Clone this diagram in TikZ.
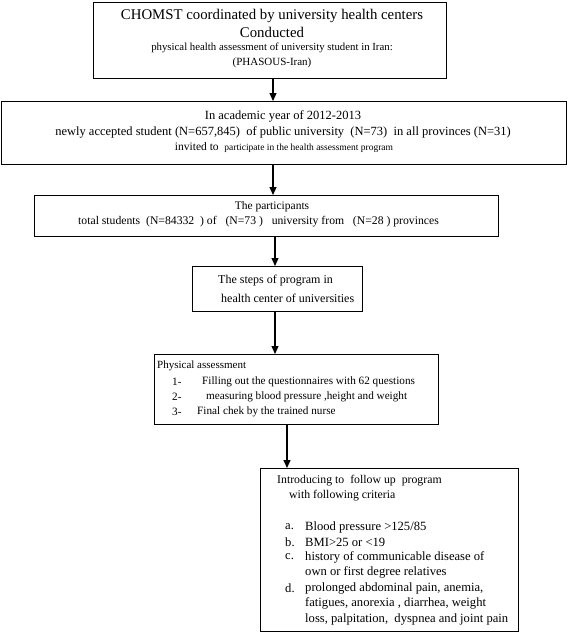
\documentclass[tikz,border=0pt]{standalone}
\usepackage{fontspec}
\setmainfont{Liberation Serif}
\usetikzlibrary{arrows.meta}
\newcommand\fsz[1]{\fontsize{#1}{#1}\selectfont}
\tikzset{
  box/.style={draw=black, line width=1.1pt, inner sep=0pt, anchor=north west},
  arr/.style={line width=1.1pt, -{Triangle[length=8pt,width=7pt]}},
  txt/.style={inner sep=0pt, anchor=center},
  ltxt/.style={inner sep=0pt, anchor=west},
}
\begin{document}
\begin{tikzpicture}[x=1pt,y=-1pt]
\useasboundingbox (0,0) rectangle (568,632);
\fill[white] (0,0) rectangle (568,632);
% boxes
\node[box, minimum width=353pt, minimum height=76pt] (b1) at (93,2) {};
\node[box, minimum width=565pt, minimum height=63pt] (b2) at (1,101) {};
\node[box, minimum width=464pt, minimum height=41pt] (b3) at (34,195) {};
\node[box, minimum width=170pt, minimum height=45pt] (b4) at (192,266) {};
\node[box, minimum width=284pt, minimum height=70pt] (b5) at (154,354) {};
\node[box, minimum width=258pt, minimum height=163pt] (b6) at (260,468) {};
% arrow columns
\coordinate (c1) at (273,0);
\coordinate (c2) at (275,0);
\coordinate (c3) at (287,0);
\draw[arr] (c1 |- b1.south) -- (c1 |- b2.north);
\draw[arr] (c1 |- b2.south) -- (c1 |- b3.north);
\draw[arr] (c2 |- b3.south) -- (c2 |- b4.north);
\draw[arr] (c2 |- b4.south) -- (c2 |- b5.north);
\draw[arr] (c3 |- b5.south) -- (c3 |- b6.north);
% box 1
\node[txt, font=\fsz{14.8}] (t11) at (272,16) {CHOMST coordinated by university health centers};
\node[txt, font=\fsz{14.8}] (t12) at (272,32) {Conducted};
\node[txt, font=\fsz{10.8}] (t13) at (272,48) {physical health assessment of university student in Iran:};
\node[txt, font=\fsz{11}] (t14) at (272,63) {(PHASOUS-Iran)};
% box 2
\node[txt, font=\fsz{12.5}] (t21) at (283,116) {In academic year of 2012-2013};
\node[txt, font=\fsz{12.5}] (t22) at (283,132) {newly accepted student (N=657,845)\ \ of public university\ \ (N=73)\ \ in all provinces (N=31)};
\node[txt, font=\fsz{11.5}] (t23) at (284,148) {invited to\ \ {\fsz{9.5}participate in the health assessment program}};
% box 3
\node[txt, font=\fsz{11.5}] (t31) at (272,207) {The participants};
\node[ltxt, font=\fsz{11.7}] (t32) at (78,222) {total students\ \ (N=84332\ \ ) of\ \ \ (N=73 )\ \ \ university from\ \ \ (N=28 ) provinces};
% box 4
\node[ltxt, font=\fsz{12}] (t41) at (218,281) {The steps of program in};
\node[ltxt, font=\fsz{12}] (t42) at (221,298) {health center of universities};
% box 5
\node[ltxt, font=\fsz{11}] (t50) at (157,366) {Physical assessment};
\node[ltxt, font=\fsz{11.2}] (l51) at (172,382) {1-};
\node[ltxt, font=\fsz{11.2}] (t51) at (202,382) {Filling out the questionnaires with 62 questions};
\node[ltxt, font=\fsz{11.2}] (l52) at (172,397) {2-};
\node[ltxt, font=\fsz{11.2}] (t52) at (206,397) {measuring blood pressure ,height and weight};
\node[ltxt, font=\fsz{11.2}] (l53) at (172,412) {3-};
\node[ltxt, font=\fsz{11.2}] (t53) at (197,412) {Final chek by the trained nurse};
% box 6
\node[ltxt, font=\fsz{11.8}] (t61) at (277,481) {Introducing to\ \ follow up\ \ program};
\node[ltxt, font=\fsz{11.8}] (t62) at (289,496) {with following criteria};
\node[ltxt, font=\fsz{12.6}] (la) at (285,527) {a.};
\node[ltxt, font=\fsz{12.6}] (ta) at (305,527) {Blood pressure >125/85};
\node[ltxt, font=\fsz{12.6}] (lb) at (285,542) {b.};
\node[ltxt, font=\fsz{12.6}] (tb) at (305,542) {BMI>25 or <19};
\node[ltxt, font=\fsz{12.6}] (lc) at (285,557) {c.};
\node[ltxt, font=\fsz{12.6}] (tc1) at (305,557) {history of communicable disease of};
\node[ltxt, font=\fsz{12.6}] (tc2) at (305,572) {own or first degree relatives};
\node[ltxt, font=\fsz{12.6}] (ld) at (285,588) {d.};
\node[ltxt, font=\fsz{12.6}] (td1) at (305,588) {prolonged abdominal pain, anemia,};
\node[ltxt, font=\fsz{12.6}] (td2) at (305,603) {fatigues, anorexia , diarrhea, weight};
\node[ltxt, font=\fsz{12.6}] (td3) at (305,619) {loss, palpitation,\ \ dyspnea and joint pain};
\end{tikzpicture}
\end{document}
